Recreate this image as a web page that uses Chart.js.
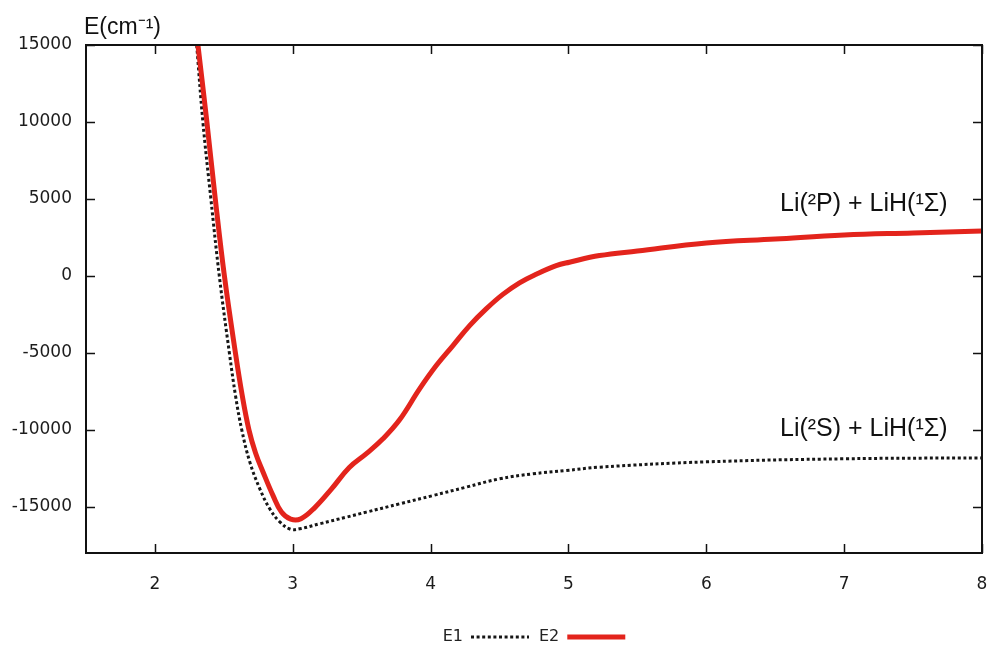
<!DOCTYPE html>
<html><head><meta charset="utf-8">
<script src="https://cdn.jsdelivr.net/npm/chart.js@4.4.0/dist/chart.umd.min.js"></script>
<style>html,body{margin:0;padding:0;background:#fff;}#wrap{width:992px;height:655px;}</style>
</head><body><div id="wrap"><canvas id="c" width="992" height="655"></canvas></div>
<script>
// ---- data ----
const xTicks = [2, 3, 4, 5, 6, 7, 8];
const yTicks = [-15000, -10000, -5000, 0, 5000, 10000, 15000];
const seriesNames = ['E1', 'E2'];
const e1R = [2.303, 2.348, 2.406, 2.467, 2.54, 2.585, 2.63, 2.688, 2.761, 2.833, 2.906, 2.985, 3.05, 3.196, 3.389, 3.534, 3.775, 4.017, 4.258, 4.5, 4.741, 4.983, 5.225, 6.0, 7.0, 8.0];
const e1E = [15000, 10000, 5000, 0, -5000, -7800, -10000, -12080, -13830, -15130, -15980, -16460, -16430, -16100, -15670, -15345, -14806, -14268, -13722, -13183, -12858, -12644, -12423, -12080, -11880, -11820];
const e2R = [2.312, 2.377, 2.438, 2.504, 2.584, 2.632, 2.682, 2.73, 2.785, 2.857, 2.918, 2.985, 3.06, 3.16, 3.28, 3.41, 3.534, 3.654, 3.775, 3.92, 4.041, 4.162, 4.283, 4.403, 4.524, 4.645, 4.766, 4.911, 5.007, 5.225, 5.5, 6.0, 6.5, 7.0, 7.5, 8.0];
const e2E = [15000, 10000, 5000, 0, -5000, -7700, -10000, -11500, -12750, -14270, -15340, -15800, -15770, -15050, -13850, -12450, -11550, -10585, -9350, -7340, -5825, -4526, -3227, -2143, -1200, -450, 110, 669, 890, 1320, 1620, 2140, 2400, 2660, 2790, 2920];
const yTitle = 'E(cm⁻¹)';
const stateLabels = ['Li(²P) + LiH(¹Σ)', 'Li(²S) + LiH(¹Σ)'];
const stateAnchorX = [7.75, 7.75];
const stateAnchorY = [4680, -9940];

const toPts = (xs, ys) => xs.map((v, i) => ({x: v, y: ys[i]}));
const tickFont = {family: 'DejaVu Sans', size: 17};

const frame = {
  id: 'frame',
  afterDatasetsDraw(chart) {
    const {ctx, chartArea: a, scales: {x, y}} = chart;
    ctx.save();
    ctx.strokeStyle = '#111';
    ctx.lineWidth = 1.5;
    const L = 9;
    ctx.beginPath();
    xTicks.forEach(v => {
      const px = Math.round(x.getPixelForValue(v)) + 0.5;
      ctx.moveTo(px, a.bottom); ctx.lineTo(px, a.bottom - L);
      ctx.moveTo(px, a.top); ctx.lineTo(px, a.top + L);
    });
    yTicks.forEach(v => {
      const py = Math.round(y.getPixelForValue(v)) + 0.5;
      ctx.moveTo(a.left, py); ctx.lineTo(a.left + L, py);
      ctx.moveTo(a.right, py); ctx.lineTo(a.right - L, py);
    });
    ctx.stroke();
    ctx.lineWidth = 2;
    ctx.strokeRect(a.left, a.top, a.right - a.left, a.bottom - a.top);
    ctx.restore();
  },
  afterDraw(chart) {
    const {ctx, chartArea: a, scales: {x, y}} = chart;
    ctx.save();
    ctx.fillStyle = '#111';
    ctx.font = '23px "Liberation Sans", Arial, sans-serif';
    ctx.textBaseline = 'middle';
    ctx.textAlign = 'left';
    ctx.fillText(yTitle, a.left - 2, a.top - 17);
    ctx.textAlign = 'right';
    ctx.font = '25px "Liberation Sans", Arial, sans-serif';
    stateLabels.forEach((t, i) => {
      ctx.fillText(t, x.getPixelForValue(stateAnchorX[i]), y.getPixelForValue(stateAnchorY[i]));
    });
    ctx.restore();
  }
};

new Chart(document.getElementById('c'), {
  type: 'line',
  data: {
    datasets: [
      {label: seriesNames[0], data: toPts(e1R, e1E), borderColor: '#161616', borderWidth: 3,
       borderDash: [3, 2.6], pointRadius: 0, pointStyle: 'line', tension: 0.4, order: 2, fill: false},
      {label: seriesNames[1], data: toPts(e2R, e2E), borderColor: '#e3241c', borderWidth: 5,
       pointRadius: 0, pointStyle: 'line', tension: 0.4, order: 1, fill: false}
    ]
  },
  options: {
    responsive: false, animation: false, devicePixelRatio: 1,
    layout: {padding: {top: 45, right: 10, left: 0, bottom: 0}},
    plugins: {
      tooltip: {enabled: false},
      legend: {
        position: 'bottom', rtl: true, fullSize: false,
        labels: {
          usePointStyle: true, pointStyleWidth: 58, padding: 10, color: '#222',
          font: {family: 'DejaVu Sans', size: 16},
          generateLabels: ch => Chart.defaults.plugins.legend.labels.generateLabels(ch).map(it => {
            const ds = ch.data.datasets[it.datasetIndex];
            it.lineDash = ds.borderDash || [];
            it.lineWidth = ds.borderWidth;
            it.strokeStyle = ds.borderColor;
            it.fillStyle = ds.borderColor;
            it.pointStyle = 'line';
            return it;
          })
        }
      }
    },
    scales: {
      x: {
        type: 'linear', min: 1.5, max: 8,
        grid: {display: true, drawOnChartArea: false, drawTicks: true, tickLength: 21, color: 'rgba(0,0,0,0)'},
        border: {display: false},
        afterBuildTicks: s => { s.ticks = xTicks.map(v => ({value: v})); },
        afterFit: s => { s.height = 66; },
        ticks: {padding: 0, color: '#1c1c1c', font: tickFont, callback: v => String(v)}
      },
      y: {
        type: 'linear', min: -18000, max: 15000,
        grid: {display: true, drawOnChartArea: false, drawTicks: true, tickLength: 14, color: 'rgba(0,0,0,0)'},
        border: {display: false},
        afterBuildTicks: s => { s.ticks = yTicks.map(v => ({value: v})); },
        afterFit: s => { s.width = 86; },
        ticks: {padding: 0, color: '#1c1c1c', font: tickFont, callback: v => String(v)}
      }
    }
  },
  plugins: [frame]
});
</script></body></html>
